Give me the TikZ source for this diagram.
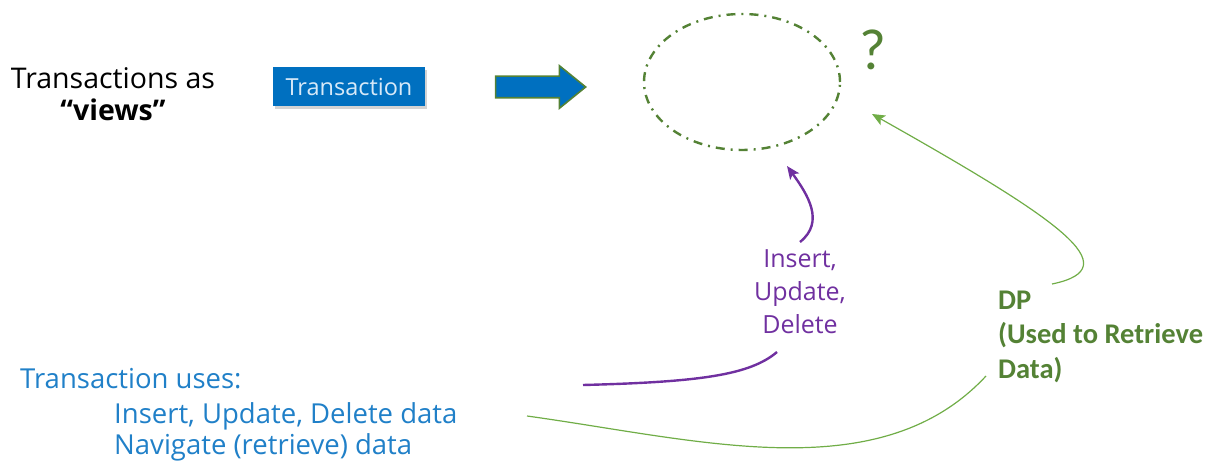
\documentclass[tikz,border=0pt]{standalone}
\usepackage{fontspec}
\setmainfont{Open Sans}
\newfontfamily\carlito{Carlito}
\newfontfamily\osans{Open Sans}
\usetikzlibrary{shapes.geometric,shapes.arrows,arrows.meta,shadows}
\definecolor{boxblue}{RGB}{0,112,192}
\definecolor{boxtext}{RGB}{215,233,248}
\definecolor{dkgreen}{RGB}{84,130,53}
\definecolor{ltgreen}{RGB}{112,173,71}
\definecolor{purp}{RGB}{112,48,160}
\definecolor{txtblue}{RGB}{32,128,200}
\tikzset{
  purpline/.style={draw=purp, line width=2.4pt},
  greenline/.style={draw=ltgreen, line width=1.2pt},
}
\begin{document}
\begin{tikzpicture}[x=1pt,y=-1pt]
\useasboundingbox (0,0) rectangle (1220,462);
% anchor=base of a multi-line node is the baseline of its last line
\node[font=\fontsize{28.5}{32}\selectfont, align=center, inner sep=0, anchor=base] (title) at (113,121) {Transactions as\\ \textbf{“views”}};
\node[fill=boxblue, text=boxtext, minimum width=152pt, minimum height=39pt, inner sep=0,
      drop shadow={shadow xshift=2pt, shadow yshift=-3pt, opacity=0.35},
      font=\fontsize{23.5}{24}\selectfont] (tbox) at (349,87) {Transaction};
\node[single arrow, draw=dkgreen, fill=boxblue, line width=1.6pt, inner sep=10pt,
      minimum height=90pt, single arrow head extend=10.5pt, single arrow tip angle=78] (barrow) at (534,87) {};
\node[ellipse, draw=dkgreen, line width=2.4pt, minimum width=196pt, minimum height=136pt,
      dash pattern=on 9pt off 6pt on 2pt off 6pt] (target) at (742,82) {};
\node[text=dkgreen, font=\carlito\fontsize{58}{60}\selectfont, inner sep=0] (q) at (873,50) {?};
\node[text=purp, align=center, anchor=base, font=\osans\fontsize{25}{33}\selectfont, inner sep=0] (iud) at (800,333) {Insert,\\Update,\\Delete};
\node[text=dkgreen, align=left, anchor=base west, font=\carlito\bfseries\fontsize{28.5}{34.5}\selectfont, inner sep=0] (dp) at (998,378) {DP\\(Used to Retrieve\\Data)};
\node[text=txtblue, anchor=base west, font=\fontsize{27.5}{31}\selectfont, inner sep=0] (uses) at (20,388) {Transaction uses:};
\node[text=txtblue, anchor=base west, align=left, font=\fontsize{27.5}{31}\selectfont, inner sep=0] (ops) at (114,454) {Insert, Update, Delete data\\Navigate (retrieve) data};
\coordinate (pA) at (583,385);
\coordinate (pB) at (777,352);
\coordinate (pC) at (800,242);
\coordinate (pD) at (787,166);
\coordinate (gA) at (1052,284);
\coordinate (gB) at (872,114);
\coordinate (gC) at (527,416);
\coordinate (gD) at (986,376);
\draw[purpline] (pA) .. controls (700,382) and (750,375) .. (pB);
\draw[purpline, -{Stealth[length=13pt,width=11pt,inset=3pt]}] (pC) .. controls (825,222) and (808,195) .. (pD);
\draw[greenline, -{Stealth[length=13pt,width=11pt,inset=3pt]}] (gA) .. controls (1130,268) and (1060,220) .. (gB);
\draw[greenline] (gC) .. controls (700,440) and (880,490) .. (gD);
\end{tikzpicture}
\end{document}
